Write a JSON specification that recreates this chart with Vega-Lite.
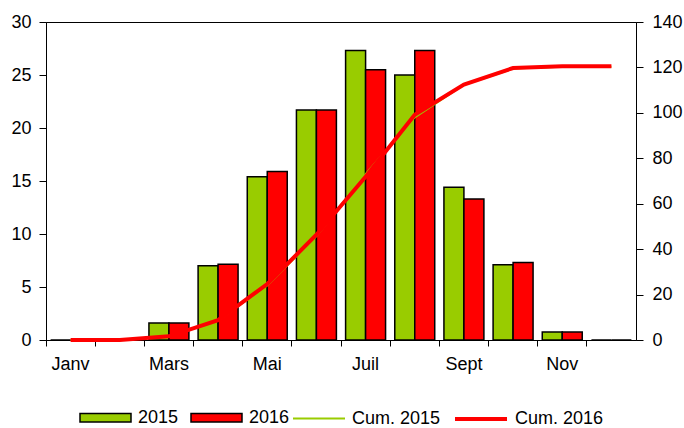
{
  "$schema": "https://vega.github.io/schema/vega-lite/v6.json",
  "width": 590,
  "height": 318,
  "autosize": "none",
  "padding": {"left": 46, "top": 22, "right": 48, "bottom": 88},
  "background": "white",
  "config": {
    "view": {"stroke": "black", "strokeWidth": 1},
    "font": "Liberation Sans",
    "axis": {
      "domainColor": "black",
      "tickColor": "black",
      "labelColor": "black",
      "labelFont": "Liberation Sans",
      "labelFontSize": 18,
      "grid": false,
      "title": null
    },
    "legend": {
      "labelFont": "Liberation Sans",
      "labelFontSize": 18,
      "labelColor": "black",
      "title": null,
      "orient": "none",
      "direction": "horizontal",
      "padding": 0,
      "labelOffset": 6,
      "columnPadding": 10
    }
  },
  "datasets": {
    "bars": [
      {"month": "Janv", "series": "2015", "value": 0},
      {"month": "Févr", "series": "2015", "value": 0},
      {"month": "Mars", "series": "2015", "value": 1.6},
      {"month": "Avr", "series": "2015", "value": 7.0},
      {"month": "Mai", "series": "2015", "value": 15.4},
      {"month": "Juin", "series": "2015", "value": 21.7},
      {"month": "Juil", "series": "2015", "value": 27.3},
      {"month": "Août", "series": "2015", "value": 25.0},
      {"month": "Sept", "series": "2015", "value": 14.4},
      {"month": "Oct", "series": "2015", "value": 7.1},
      {"month": "Nov", "series": "2015", "value": 0.75},
      {"month": "Déc", "series": "2015", "value": 0},
      {"month": "Janv", "series": "2016", "value": 0},
      {"month": "Févr", "series": "2016", "value": 0},
      {"month": "Mars", "series": "2016", "value": 1.6},
      {"month": "Avr", "series": "2016", "value": 7.15},
      {"month": "Mai", "series": "2016", "value": 15.9},
      {"month": "Juin", "series": "2016", "value": 21.7},
      {"month": "Juil", "series": "2016", "value": 25.5},
      {"month": "Août", "series": "2016", "value": 27.3},
      {"month": "Sept", "series": "2016", "value": 13.3},
      {"month": "Oct", "series": "2016", "value": 7.3},
      {"month": "Nov", "series": "2016", "value": 0.75},
      {"month": "Déc", "series": "2016", "value": 0}
    ],
    "cum": [
      {"month": "Janv", "series": "Cum. 2015", "value": 0},
      {"month": "Févr", "series": "Cum. 2015", "value": 0},
      {"month": "Mars", "series": "Cum. 2015", "value": 1.6},
      {"month": "Avr", "series": "Cum. 2015", "value": 8.6},
      {"month": "Mai", "series": "Cum. 2015", "value": 24.0},
      {"month": "Juin", "series": "Cum. 2015", "value": 45.7},
      {"month": "Juil", "series": "Cum. 2015", "value": 73.0},
      {"month": "Août", "series": "Cum. 2015", "value": 98.0},
      {"month": "Sept", "series": "Cum. 2015", "value": 112.4},
      {"month": "Oct", "series": "Cum. 2015", "value": 119.5},
      {"month": "Nov", "series": "Cum. 2015", "value": 120.25},
      {"month": "Déc", "series": "Cum. 2015", "value": 120.25},
      {"month": "Janv", "series": "Cum. 2016", "value": 0},
      {"month": "Févr", "series": "Cum. 2016", "value": 0},
      {"month": "Mars", "series": "Cum. 2016", "value": 1.6},
      {"month": "Avr", "series": "Cum. 2016", "value": 8.75},
      {"month": "Mai", "series": "Cum. 2016", "value": 24.65},
      {"month": "Juin", "series": "Cum. 2016", "value": 46.35},
      {"month": "Juil", "series": "Cum. 2016", "value": 71.85},
      {"month": "Août", "series": "Cum. 2016", "value": 99.15},
      {"month": "Sept", "series": "Cum. 2016", "value": 112.45},
      {"month": "Oct", "series": "Cum. 2016", "value": 119.75},
      {"month": "Nov", "series": "Cum. 2016", "value": 120.5},
      {"month": "Déc", "series": "Cum. 2016", "value": 120.5}
    ]
  },
  "encoding": {
    "x": {
      "field": "month",
      "type": "nominal",
      "sort": ["Janv", "Févr", "Mars", "Avr", "Mai", "Juin", "Juil", "Août", "Sept", "Oct", "Nov", "Déc"],
      "scale": {"paddingInner": 0, "paddingOuter": 0},
      "axis": {
        "bandPosition": 0,
        "labelAngle": 0,
        "tickSize": 6,
        "labelPadding": 9,
        "labelExpr": "indexof(['Janv','Mars','Mai','Juil','Sept','Nov'], datum.label) >= 0 ? datum.label : ''"
      }
    }
  },
  "layer": [
    {
      "data": {"name": "bars"},
      "mark": {"type": "bar", "stroke": "black", "strokeWidth": 1.5},
      "encoding": {
        "xOffset": {"field": "series", "type": "nominal", "scale": {"paddingOuter": 0.23, "paddingInner": 0}},
        "y": {
          "field": "value",
          "type": "quantitative",
          "scale": {"domain": [0, 30], "nice": false},
          "axis": {"orient": "left", "values": [0, 5, 10, 15, 20, 25, 30], "tickSize": 7, "labelPadding": 8}
        },
        "fill": {
          "field": "series",
          "type": "nominal",
          "scale": {"domain": ["2015", "2016"], "range": ["#99CC00", "#FF0000"]},
          "legend": {
            "legendX": 33,
            "legendY": 369,
            "symbolSize": 2601,
            "symbolType": "M-1,-0.17H1V0.17H-1Z",
            "symbolStrokeColor": "black",
            "symbolStrokeWidth": 1.5,
            "columnPadding": 9
          }
        }
      }
    },
    {
      "data": {"name": "cum"},
      "encoding": {
        "y": {
          "field": "value",
          "type": "quantitative",
          "scale": {"domain": [0, 140], "nice": false},
          "axis": {"orient": "right", "values": [0, 20, 40, 60, 80, 100, 120, 140], "tickSize": 7, "labelPadding": 9}
        },
        "stroke": {
          "field": "series",
          "type": "nominal",
          "scale": {"domain": ["Cum. 2015", "Cum. 2016"], "range": ["#99CC00", "#FF0000"]},
          "legend": {
            "legendX": 246,
            "legendY": 369,
            "symbolSize": 2704,
            "symbolType": "M-1,0H1",
            "columnPadding": 6
          }
        },
        "strokeWidth": {
          "field": "series",
          "type": "nominal",
          "scale": {"domain": ["Cum. 2015", "Cum. 2016"], "range": [2, 4]},
          "legend": {
            "legendX": 246,
            "legendY": 369,
            "symbolSize": 2704,
            "symbolType": "M-1,0H1",
            "columnPadding": 6
          }
        }
      },
      "mark": {"type": "line"}
    }
  ],
  "resolve": {"scale": {"y": "independent"}}
}
